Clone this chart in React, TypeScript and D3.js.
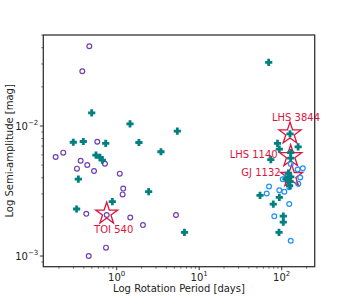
import React from 'react';
import * as d3 from 'd3';

// rotation period [days], semi-amplitude [mag]
const purplePeriod = [0.466, 0.383, 0.582, 0.182, 0.225, 0.721, 0.366, 0.44, 0.33, 0.531, 1.09, 1.2, 1.18, 0.428, 0.757, 1.46, 2.08, 5.23, 0.742, 0.458];
const purpleAmp = [0.041, 0.0264, 0.00757, 0.00578, 0.00624, 0.00513, 0.0054, 0.00501, 0.0047, 0.00451, 0.0043, 0.0033, 0.00298, 0.00211, 0.00207, 0.00198, 0.00173, 0.00207, 0.00116, 0.001];

const bluePeriod = [70.2, 65.8, 93.5, 107.6, 123.7, 123.3, 81.3, 128.6, 180, 156, 167.5, 158.5, 102.8, 114, 128.5];
const blueAmp = [0.00343, 0.00303, 0.00321, 0.00312, 0.00338, 0.00251, 0.00202, 0.00131, 0.00473, 0.00463, 0.00402, 0.0036, 0.00389, 0.00405, 0.0051];

const tealPeriod = [0.498, 1.45, 0.298, 0.394, 0.736, 1.86, 0.561, 0.628, 0.669, 0.343, 0.885, 0.327, 5.43, 3.44, 2.44, 6.63, 69.5,
  126, 88.9, 93.5, 158, 73.8, 128.5, 128.5, 120.6, 129, 126, 112.7, 54.6, 93.5, 79, 104.5, 104.5, 92.7, 124.5];
const tealAmp = [0.0126, 0.0104, 0.0075, 0.0076, 0.00736, 0.00747, 0.00598, 0.00574, 0.00547, 0.00391, 0.00262, 0.0023, 0.00912, 0.00634, 0.00313, 0.00152, 0.0309,
  0.0087, 0.00736, 0.00665, 0.0069, 0.00552, 0.00624, 0.00567, 0.00434, 0.00406, 0.00373, 0.0039, 0.00293, 0.00283, 0.00251, 0.00203, 0.00182, 0.00152, 0.00348];

const starNames = ['TOI 540', 'LHS 3844', 'LHS 1140', 'GJ 1132'];
const starPeriod = [0.757, 126, 128.5, 132];
const starAmp = [0.00212, 0.00875, 0.00585, 0.00412];

const xTicks = [1, 10, 100];
const yTicks = [0.001, 0.01];

const W = 350, H = 300;
const m = { left: 43.3, right: 314.7, top: 35, bottom: 266.7 };

export default function App() {
  const x = d3.scaleLog().domain([0.129, 251]).range([m.left, m.right]);
  const y = d3.scaleLog().domain([0.000828, 0.0501]).range([m.bottom, m.top]);

  const xMinor: number[] = [];
  const yMinor: number[] = [];
  [0.1, 1, 10, 100].forEach(d => { for (let k = 2; k <= 9; k++) { const v = d * k; if (v >= 0.129 && v <= 251) xMinor.push(v); } });
  [0.0001, 0.001, 0.01].forEach(d => { for (let k = 2; k <= 9; k++) { const v = d * k; if (v >= 0.000828 && v <= 0.0501) yMinor.push(v); } });

  const star = d3.symbol().type(d3.symbolStar).size(150)();
  const plus = 'M-1.4,-3.6H1.4V-1.4H3.6V1.4H1.4V3.6H-1.4V1.4H-3.6V-1.4H-1.4Z';
  const font = 'DejaVu Sans, sans-serif';
  // label offsets from the star centre
  const labelPos: [number, number, string][] = [[7, 16, 'middle'], [6, -16, 'middle'], [-13, -1.5, 'end'], [-11, -4, 'end']];

  const sup = (e: number) => (
    <>10<tspan dy={-5} fontSize={7}>{e < 0 ? '\u2212' + Math.abs(e) : e}</tspan></>
  );

  return (
    <svg width={W} height={H} style={{ position: 'absolute', left: 0, top: 0 }} fontFamily={font}>
      <rect width={W} height={H} fill="#fff" />
      {starPeriod.map((p, i) => (
        <path key={'s' + i} d={star!} transform={`translate(${x(p)},${y(starAmp[i])})`} fill="none" stroke="#dc143c" strokeWidth={1.3} />
      ))}
      {purplePeriod.map((p, i) => (
        <circle key={'p' + i} cx={x(p)} cy={y(purpleAmp[i])} r={2.4} fill="none" stroke="#7040b0" strokeWidth={1.2} />
      ))}
      {bluePeriod.map((p, i) => (
        <circle key={'b' + i} cx={x(p)} cy={y(blueAmp[i])} r={2.4} fill="none" stroke="#1e90ff" strokeWidth={1.2} />
      ))}
      {tealPeriod.map((p, i) => (
        <path key={'t' + i} d={plus} transform={`translate(${x(p)},${y(tealAmp[i])})`} fill="#008080" />
      ))}
      {starNames.map((n, i) => (
        <text key={'l' + i} x={x(starPeriod[i]) + labelPos[i][0]} y={y(starAmp[i]) + labelPos[i][1]} textAnchor={labelPos[i][2] as any}
          fontSize={10} fill="#dc143c" dy="0.35em">{n}</text>
      ))}
      <rect x={m.left} y={m.top} width={m.right - m.left} height={m.bottom - m.top} fill="none" stroke="#333" strokeWidth={1.3} />
      {xTicks.map(t => (
        <g key={'xt' + t}>
          <line x1={x(t)} x2={x(t)} y1={m.bottom} y2={m.bottom + 3.5} stroke="#333" />
          <text x={x(t)} y={m.bottom + 14} textAnchor="middle" fontSize={10} fill="#222">{sup(Math.round(Math.log10(t)))}</text>
        </g>
      ))}
      {xMinor.map(t => <line key={'xm' + t} x1={x(t)} x2={x(t)} y1={m.bottom} y2={m.bottom + 2} stroke="#333" strokeWidth={0.7} />)}
      {yTicks.map(t => (
        <g key={'yt' + t}>
          <line x1={m.left} x2={m.left - 3.5} y1={y(t)} y2={y(t)} stroke="#333" />
          <text x={m.left - 5} y={y(t)} dy="0.35em" textAnchor="end" fontSize={10} fill="#222">{sup(Math.round(Math.log10(t)))}</text>
        </g>
      ))}
      {yMinor.map(t => <line key={'ym' + t} x1={m.left} x2={m.left - 2} y1={y(t)} y2={y(t)} stroke="#333" strokeWidth={0.7} />)}
      <text x={(m.left + m.right) / 2} y={292} textAnchor="middle" fontSize={10} fill="#222">Log Rotation Period [days]</text>
      <text transform={`translate(13,${(m.top + m.bottom) / 2}) rotate(-90)`} textAnchor="middle" fontSize={10} fill="#222">Log Semi-amplitude [mag]</text>
    </svg>
  );
}
